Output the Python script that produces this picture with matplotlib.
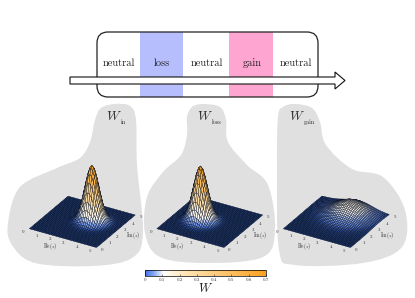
import numpy as np
import matplotlib
matplotlib.use('Agg')
import matplotlib.pyplot as plt
from matplotlib.colors import LinearSegmentedColormap, Normalize, to_rgba
from matplotlib.cm import ScalarMappable
from matplotlib.path import Path
from matplotlib.patches import PathPatch, Rectangle, FancyBboxPatch, Polygon
from mpl_toolkits.mplot3d import proj3d

plt.rcParams['mathtext.fontset'] = 'cm'
plt.rcParams['font.family'] = ['cmr10', 'DejaVu Serif']
plt.rcParams['axes.formatter.use_mathtext'] = True

# grid of Re(s), Im(s)
grid = np.linspace(0, 5, 41)

# profiles
in_re = [0]*10 + [.001,.003,.006,.014,.029,.056,.103,.176,.279,.411,.567,.726,.868,.965,1,
                  .965,.868,.726,.567,.411,.279,.176,.103,.056,.029,.014,.006,.003,.001] + [0]*2
in_im = [0]*9 + [.001,.003,.006,.014,.029,.056,.103,.176,.279,.411,.567,.726,.868,.965,1,
                 .965,.868,.726,.567,.411,.279,.176,.103,.056,.029,.014,.006,.003,.001] + [0]*3
loss_re = [0]*1 + [.001,.003,.006,.014,.029,.056,.103,.176,.279,.411,.567,.726,.868,.965,1,
                   .965,.868,.726,.567,.411,.279,.176,.103,.056,.029,.014,.006,.003,.001] + [0]*11
loss_im = [0]*5 + [.001,.003,.006,.014,.029,.056,.103,.176,.279,.411,.567,.726,.868,.965,1,
                   .965,.868,.726,.567,.411,.279,.176,.103,.056,.029,.014,.006,.003,.001] + [0]*7
gain_re = [.023,.032,.044,.06,.08,.105,.135,.172,.216,.268,.325,.389,.458,.531,.607,.682,.755,.823,.882,.932,.969,.992,1,
           .992,.969,.932,.882,.823,.755,.682,.607,.531,.458,.389,.325,.268,.216,.172,.135,.105,.08]
gain_im = [0,.001,.002,.003,.005,.008,.011,.016,.023,.032,.044,.06,.08,.105,.135,.172,.216,.268,.325,.389,.458,.531,.607,.682,.755,.823,.882,.932,.969,.992,1,
           .992,.969,.932,.882,.823,.755,.682,.607,.531,.458]
peak_in = 0.72
peak_loss = 0.70
peak_gain = 0.17

stage_labels = ['neutral', 'loss', 'neutral', 'gain', 'neutral']
axis_ticks = [0, 1, 2, 3, 4, 5]
cbar_ticks = [0, 0.1, 0.2, 0.3, 0.4, 0.5, 0.6, 0.7]

cmap = LinearSegmentedColormap.from_list('wigner', [
    (0.0, '#3f6ee8'), (0.08, '#8fb0f5'), (0.15, '#ffffff'), (0.3, '#ffe9bd'), (1.0, '#f9a11f')])
norm = Normalize(0, 0.7)
navy = np.array(to_rgba('#163a80'))

W, H = 415, 298
fig = plt.figure(figsize=(W/100, H/100), dpi=100)

# background layer in pixel coordinates
bg = fig.add_axes([0, 0, 1, 1])
bg.set_xlim(0, W)
bg.set_ylim(H, 0)
bg.axis('off')

def blob(pts, color='#e0e0e0'):
    # closed catmull-rom through the outline points
    pts = np.array(pts, float)
    n = len(pts)
    verts = [pts[0]]
    codes = [Path.MOVETO]
    for i in range(n):
        p0, p1, p2, p3 = pts[i-1], pts[i], pts[(i+1) % n], pts[(i+2) % n]
        verts += [p1 + (p2-p0)/6, p2 - (p3-p1)/6, p2]
        codes += [Path.CURVE4]*3
    bg.add_patch(PathPatch(Path(verts, codes), fc=color, ec='none'))

blob([(115,104),(130,106),(136,120),(137,165),(143,233),(132,258),(93,266),(35,263),(12,245),(8,223),
      (20,187),(57,168),(80,158),(90,142),(95,120),(101,108)])
blob([(203,104),(220,107),(226,120),(228,142),(247,165),(268,185),(275,230),(263,257),(207,263),
      (160,257),(145,233),(147,197),(163,172),(181,155),(187,135),(187,117),(192,107)])
blob([(295,104),(312,108),(320,122),(326,145),(352,169),(383,177),(405,210),(402,247),(363,263),
      (295,265),(279,250),(277,167),(278,117),(283,107)])

# top schematic
bg.add_patch(Rectangle((140, 32), 43, 65, fc='#b6befe', ec='none'))
bg.add_patch(Rectangle((229, 32), 44, 65, fc='#fea5d2', ec='none'))
bg.add_patch(FancyBboxPatch((97, 32), 221, 65, boxstyle='round,pad=0,rounding_size=11',
                            fc='none', ec='#222222', lw=0.9))
for xc, lab in zip([119, 162, 207, 252, 296], stage_labels):
    bg.text(xc, 63.5, lab, ha='center', va='center', fontsize=7.5, color='#222222')
bg.add_patch(Polygon([(70,77),(335,77),(335,72),(345,80.5),(335,89),(335,84),(70,84)],
                     closed=True, fc='white', ec='#111111', lw=0.8))

def surface(left, re, im, peak, name, name_xy):
    x, y = np.meshgrid(grid, grid)
    z = peak*np.outer(im, re)
    # flat cells read as navy at this size: the mesh lines cover them
    weight = np.clip(z/0.025, 0, 1)[..., None]
    colors = navy*(1 - weight) + cmap(norm(z))*weight
    size = 170
    ax = fig.add_axes([(left - size/2)/W, 1 - (197 + size/2)/H, size/W, size/H],
                      projection='3d', computed_zorder=False)
    ax.patch.set_alpha(0)
    ax.set_proj_type('ortho')
    ax.view_init(elev=29, azim=-60)
    ax.set_xlim(0, 5)
    ax.set_ylim(0, 5)
    ax.set_zlim(0, 0.7)
    ax.set_box_aspect((1, 1, 0.8), zoom=0.72)
    ax.set_axis_off()
    ax.plot_surface(x, y, z, facecolors=colors, rstride=1, cstride=1,
                    edgecolor='#050d20', linewidth=0.25, shade=False, antialiased=True)

    # axis labels sit on the floor of the box
    def floor_text(px, py, s, size):
        u, v, _ = proj3d.proj_transform(px, py, 0, ax.get_proj())
        ax.text2D(u, v, s, fontsize=size, ha='center', va='center', color='#333333')
    for t in axis_ticks:
        floor_text(t - 0.15, -0.55, str(t), 3.5)
        floor_text(5.45, t - 0.1, str(t), 3.5)
    floor_text(2.3, -1.35, r'Re$(s)$', 3.8)
    floor_text(6.2, 2.6, r'Im$(s)$', 3.8)

    bg.text(name_xy[0], name_xy[1], r'$W$', fontsize=9.5, ha='center', va='center', color='#333333')
    bg.text(name_xy[0] + 6.5, name_xy[1] + 6, name, fontsize=4.5,
            ha='left', va='center', color='#333333')

surface(80, in_re, in_im, peak_in, 'in', (114, 116))
surface(207.5, loss_re, loss_im, peak_loss, 'loss', (205, 116))
surface(334, gain_re, gain_im, peak_gain, 'gain', (297, 116))

# colour bar
cax = fig.add_axes([145/W, 1 - 276/H, 121/W, 6/H])
cb = fig.colorbar(ScalarMappable(norm=norm, cmap=cmap), cax=cax, orientation='horizontal')
cb.set_ticks(cbar_ticks, labels=['0', '0.1', '0.2', '0.3', '0.4', '0.5', '0.6', '0.7'])
cax.tick_params(direction='in', length=1.5, width=0.4, labelsize=3.5, pad=1.5, colors='#333333')
cb.outline.set_linewidth(0.5)
bg.text(206, 288.5, r'$W$', fontsize=9, ha='center', va='center', color='#222222')

fig.savefig('out.png', dpi=100)
